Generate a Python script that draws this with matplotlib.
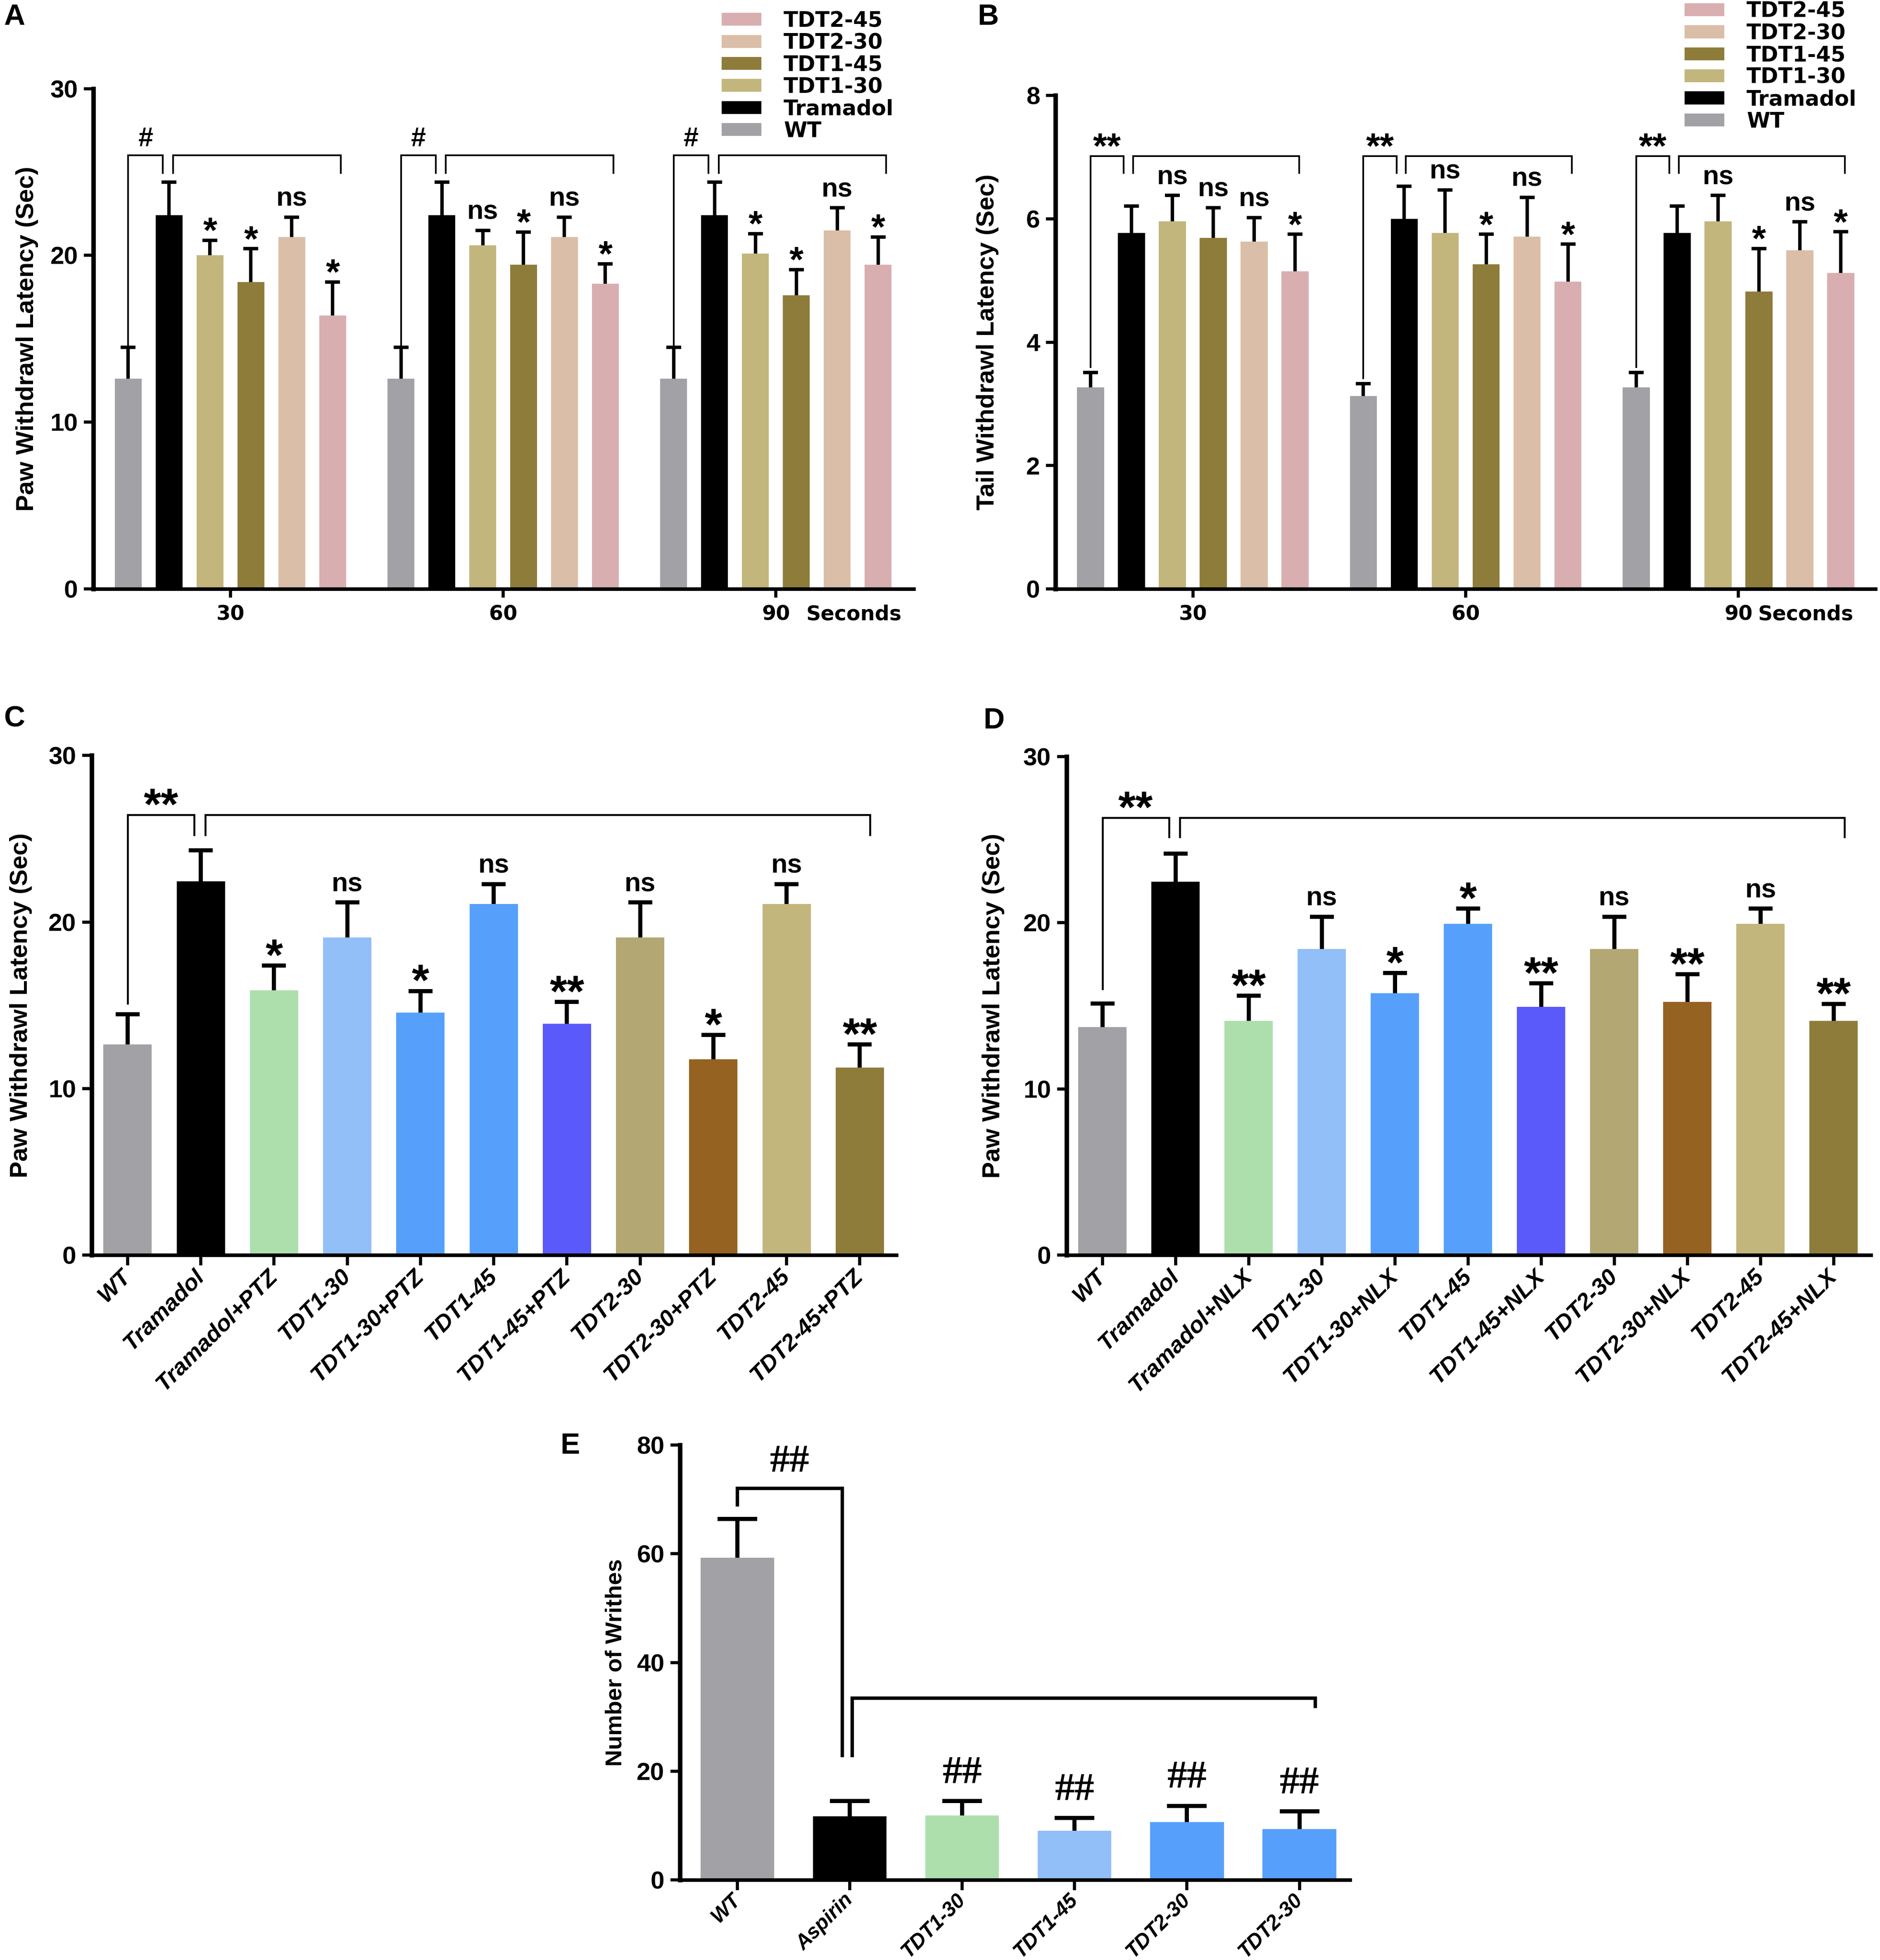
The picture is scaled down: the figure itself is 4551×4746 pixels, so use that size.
import numpy as np
import matplotlib
matplotlib.use('Agg')
import matplotlib.pyplot as plt
from matplotlib.patches import Patch

plt.rcParams['font.family'] = ['Liberation Sans', 'DejaVu Sans']
plt.rcParams['font.weight'] = 'bold'

# ---------------- data: panels A and B (grouped by time) ----------------
time_groups = ['30', '60', '90']
ab_series = ['WT', 'Tramadol', 'TDT1-30', 'TDT1-45', 'TDT2-30', 'TDT2-45']
ab_colors = ['#a2a1a6', '#000000', '#c2b67d', '#8e7c3b', '#dbbea8', '#d9aeb0']

paw_mean = [[12.6, 22.4, 20.0, 18.4, 21.1, 16.4],
            [12.6, 22.4, 20.6, 19.45, 21.1, 18.3],
            [12.6, 22.4, 20.1, 17.6, 21.5, 19.45]]
paw_sem = [[1.9, 2.0, 0.9, 2.0, 1.2, 2.0],
           [1.9, 2.0, 0.9, 1.95, 1.2, 1.2],
           [1.9, 2.0, 1.2, 1.55, 1.35, 1.65]]
paw_marks = [['', '', '*', '*', 'ns', '*'],
             ['', '', 'ns', '*', 'ns', '*'],
             ['', '', '*', '*', 'ns', '*']]

tail_mean = [[3.27, 5.77, 5.96, 5.69, 5.63, 5.15],
             [3.13, 6.00, 5.77, 5.26, 5.71, 4.98],
             [3.27, 5.77, 5.96, 4.82, 5.49, 5.12]]
tail_sem = [[0.24, 0.44, 0.42, 0.49, 0.39, 0.60],
            [0.20, 0.53, 0.70, 0.49, 0.64, 0.61],
            [0.24, 0.44, 0.42, 0.70, 0.46, 0.67]]
tail_marks = [['', '', 'ns', 'ns', 'ns', '*'],
              ['', '', 'ns', '*', 'ns', '*'],
              ['', '', 'ns', '*', 'ns', '*']]

# ---------------- data: panel C (PTZ) ----------------
ptz_names = ['WT', 'Tramadol', 'Tramadol+PTZ', 'TDT1-30', 'TDT1-30+PTZ', 'TDT1-45',
             'TDT1-45+PTZ', 'TDT2-30', 'TDT2-30+PTZ', 'TDT2-45', 'TDT2-45+PTZ']
ptz_mean = [12.64, 22.43, 15.91, 19.08, 14.57, 21.09, 13.90, 19.08, 11.75, 21.09, 11.27]
ptz_sem = [1.82, 1.88, 1.48, 2.09, 1.29, 1.18, 1.31, 2.09, 1.48, 1.18, 1.39]
ptz_marks = ['', '', '*', 'ns', '*', 'ns', '**', 'ns', '*', 'ns', '**']

# ---------------- data: panel D (NLX) ----------------
nlx_names = ['WT', 'Tramadol', 'Tramadol+NLX', 'TDT1-30', 'TDT1-30+NLX', 'TDT1-45',
             'TDT1-45+NLX', 'TDT2-30', 'TDT2-30+NLX', 'TDT2-45', 'TDT2-45+NLX']
nlx_mean = [13.72, 22.46, 14.10, 18.43, 15.77, 19.94, 14.93, 18.43, 15.25, 19.94, 14.10]
nlx_sem = [1.43, 1.70, 1.50, 1.94, 1.21, 0.91, 1.43, 1.94, 1.65, 0.91, 1.02]
nlx_marks = ['', '', '**', 'ns', '*', '*', '**', 'ns', '**', 'ns', '**']

cd_colors = ['#a2a1a6', '#000000', '#addfad', '#92bff8', '#56a0fb', '#56a0fb',
             '#5a5afa', '#b3a774', '#956221', '#c2b67d', '#8e7c3b']

# ---------------- data: panel E (writhing) ----------------
writhe_names = ['WT', 'Aspirin', 'TDT1-30', 'TDT1-45', 'TDT2-30', 'TDT2-30']
writhe_mean = [59.3, 11.67, 11.86, 9.06, 10.63, 9.32]
writhe_sem = [7.1, 2.8, 2.61, 2.34, 2.99, 3.26]
writhe_marks = ['', '', '##', '##', '##', '##']
e_colors = ['#a2a1a6', '#000000', '#addfad', '#92bff8', '#56a0fb', '#56a0fb']

WIDE = ['DejaVu Sans']


def style_axes(ax, ymax, ystep, spine_w=2.6):
    for s in ['top', 'right']:
        ax.spines[s].set_visible(False)
    ax.spines['left'].set_linewidth(spine_w)
    ax.spines['bottom'].set_linewidth(spine_w * 0.8)
    ax.set_ylim(0, ymax)
    ax.set_yticks(np.arange(0, ymax + 0.001, ystep))
    ax.tick_params(axis='both', direction='out', length=5.5, width=1.8, labelsize=14.5, pad=3.5)
    for t in ax.get_yticklabels():
        t.set_fontweight('bold')


def upper_err(ax, x, y, e, capsize, lw):
    eb = ax.errorbar(x, y, yerr=[np.zeros(len(e)), e], fmt='none', ecolor='black',
                     elinewidth=lw, capsize=capsize, capthick=lw, zorder=3)
    eb[1][0].set_visible(False)


def mark(ax, x, y, s, star=26, serif=False, off=None):
    if s == '':
        return
    if serif:
        ax.annotate(s, (x, y), xytext=(0, 10.5 if off is None else off),
                    textcoords='offset points', ha='center', va='baseline', fontsize=23,
                    fontweight='bold', family=['Liberation Serif', 'DejaVu Serif'], zorder=5)
    elif '*' in s:
        ax.annotate(s, (x, y), xytext=(0, 4.8 - 0.285 * star), textcoords='offset points',
                    ha='center', va='baseline', fontsize=star, fontweight='bold', zorder=5)
    elif s == 'ns':
        ax.annotate(s, (x, y), xytext=(0, 6.5), textcoords='offset points', ha='center',
                    va='baseline', fontsize=15.5, fontweight='bold', zorder=5)
    else:
        ax.annotate(s, (x, y), xytext=(0, 5.2), textcoords='offset points', ha='center',
                    va='baseline', fontsize=15.5, fontweight='bold', zorder=5)


def bracket(ax, xs, ys, lw):
    ax.plot(xs, ys, color='black', lw=lw, solid_joinstyle='miter',
            solid_capstyle='butt', zorder=4, clip_on=False)


def grouped_panel(ax, means, sems, marks, sym, ymax, ystep, br_y, leg_y, wt_gap,
                  first_end, second_start, second_end, sec_off):
    step = 6.67
    for g in range(len(time_groups)):
        x = g * step + np.arange(len(ab_series))
        m = np.array(means[g])
        e = np.array(sems[g])
        ax.bar(x, m, width=0.66, color=ab_colors, zorder=2)
        upper_err(ax, x, m, e, capsize=4.3, lw=2.0)
        tops = m + e
        for i, s in enumerate(marks[g]):
            mark(ax, x[i], tops[i], s, star=21)
        x1 = x[1] + first_end
        bracket(ax, [x[0], x[0], x1, x1], [tops[0] + wt_gap, br_y, br_y, leg_y], 1.0)
        xa = x[1] + second_start
        xb = x[-1] + second_end
        bracket(ax, [xa, xa, xb, xb], [leg_y, br_y, br_y, leg_y], 1.0)
        mark(ax, (x[0] + x1) / 2, br_y, sym, star=21)
    centers = [g * step + 2.5 for g in range(len(time_groups))]
    style_axes(ax, ymax, ystep)
    ax.set_xticks(centers)
    ax.set_xticklabels(time_groups, fontsize=11.8, fontweight='bold', family=WIDE)
    ax.tick_params(axis='x', length=5, pad=4)
    ax.annotate('Seconds', (centers[-1] + sec_off, 0), xycoords=('data', 'axes fraction'),
                xytext=(0, -9), textcoords='offset points', ha='left', va='top',
                fontsize=11.8, fontweight='bold', family=WIDE)


def single_panel(ax, names, means, sems, colors, width, capsize, elw, ymax, ystep,
                 xsize, xpad):
    x = np.arange(len(names))
    m = np.array(means)
    e = np.array(sems)
    ax.bar(x, m, width=width, color=colors, zorder=2)
    upper_err(ax, x, m, e, capsize=capsize, lw=elw)
    style_axes(ax, ymax, ystep)
    ax.set_xticks(x)
    ax.set_xticklabels(names, rotation=45, ha='right', va='center', rotation_mode='anchor',
                       fontsize=xsize, fontstyle='italic', fontweight='bold')
    ax.tick_params(axis='x', length=6, pad=xpad)
    return x, m + e


fig = plt.figure(figsize=(4551 / 300, 4746 / 300), dpi=300)
axA = fig.add_axes([0.0497, 0.6995, 0.4363, 0.2553])
axB = fig.add_axes([0.5614, 0.6995, 0.4362, 0.2518])
axC = fig.add_axes([0.0488, 0.3596, 0.4280, 0.2550])
axD = fig.add_axes([0.5673, 0.3596, 0.4279, 0.2544])
axE = fig.add_axes([0.3617, 0.0409, 0.3564, 0.2218])

# A
grouped_panel(axA, paw_mean, paw_sem, paw_marks, '#', 30, 10, 26.0, 24.9, 0.0,
              -0.15, 0.1, 0.2, 0.74)
axA.set_xlim(-0.85, 19.21)
axA.set_ylabel('Paw Withdrawl Latency (Sec)', fontsize=14.5, fontweight='bold')
axA.yaxis.set_label_coords(-0.067, 0.5)

# B
grouped_panel(axB, tail_mean, tail_sem, tail_marks, '**', 8, 2, 7.02, 6.73, 0.07,
              -0.19, 0.04, 0.1, 0.48)
axB.set_xlim(-0.86, 19.19)
axB.set_ylabel('Tail Withdrawl Latency (Sec)', fontsize=14.5, fontweight='bold')
axB.yaxis.set_label_coords(-0.069, 0.5)

leg_handles = [Patch(color=c) for c in ab_colors][::-1]
leg_labels = ab_series[::-1]
for anchor in [(0.3843, 0.9945), (0.8965, 0.9994)]:
    fig.legend(leg_handles, leg_labels, loc='upper left', bbox_to_anchor=anchor,
               frameon=False, prop={'size': 12.3, 'weight': 'bold', 'family': WIDE},
               handlelength=1.8, handleheight=0.44, handletextpad=1.09, labelspacing=0.065,
               borderpad=0, borderaxespad=0)

# C
x, tops = single_panel(axC, ptz_names, ptz_mean, ptz_sem, cd_colors,
                       0.66, 7.0, 2.4, 30, 10, 13.5, 4.5)
for i, s in enumerate(ptz_marks):
    mark(axC, x[i], tops[i], s)
bracket(axC, [x[0], x[0], x[1] - 0.09, x[1] - 0.09], [tops[0] + 0.6, 26.43, 26.43, 25.17], 1.1)
bracket(axC, [x[1] + 0.06, x[1] + 0.06, x[-1] + 0.14, x[-1] + 0.14], [25.17, 26.43, 26.43, 25.17], 1.1)
mark(axC, (x[0] + x[1] - 0.09) / 2, 26.43, '**')
axC.set_xlim(-0.49, 10.5)
axC.set_ylabel('Paw Withdrawl Latency (Sec)', fontsize=14.5, fontweight='bold')
axC.yaxis.set_label_coords(-0.074, 0.5)

# D
x, tops = single_panel(axD, nlx_names, nlx_mean, nlx_sem, cd_colors,
                       0.66, 7.0, 2.4, 30, 10, 13.5, 4.5)
for i, s in enumerate(nlx_marks):
    mark(axD, x[i], tops[i], s)
bracket(axD, [x[0], x[0], x[1] - 0.09, x[1] - 0.09], [tops[0] + 0.8, 26.31, 26.31, 25.1], 1.1)
bracket(axD, [x[1] + 0.06, x[1] + 0.06, x[-1] + 0.15, x[-1] + 0.15], [25.1, 26.31, 26.31, 25.1], 1.1)
mark(axD, (x[0] + x[1] - 0.09) / 2, 26.31, '**')
axD.set_xlim(-0.49, 10.51)
axD.set_ylabel('Paw Withdrawl Latency (Sec)', fontsize=14.5, fontweight='bold')
axD.yaxis.set_label_coords(-0.077, 0.5)

# E
x, tops = single_panel(axE, writhe_names, writhe_mean, writhe_sem, e_colors,
                       0.655, 11.5, 2.4, 80, 20, 12, 4)
for i, s in enumerate(writhe_marks):
    mark(axE, x[i], tops[i], s, serif=True)
bracket(axE, [x[0], x[0], x[1] - 0.065, x[1] - 0.065], [tops[0] + 2.3, 72.0, 72.0, 22.6], 2.0)
bracket(axE, [x[1] + 0.023, x[1] + 0.023, x[-1] + 0.14, x[-1] + 0.14], [22.6, 33.4, 33.4, 31.6], 2.0)
mark(axE, (x[0] + x[1] - 0.065) / 2, 72.0, '##', serif=True, off=9.8)
axE.set_xlim(-0.51, 5.45)
axE.set_ylabel('Number of Writhes', fontsize=13.5, fontweight='bold')
axE.yaxis.set_label_coords(-0.080, 0.5)

# panel letters
for lab, (px, py) in zip('ABCDE', [(0.002, 0.998), (0.520, 0.998), (0.002, 0.640),
                                   (0.523, 0.639), (0.298, 0.269)]):
    fig.text(px, py, lab, ha='left', va='top', fontsize=17, fontweight='bold')

fig.savefig('out.png', dpi=300)
